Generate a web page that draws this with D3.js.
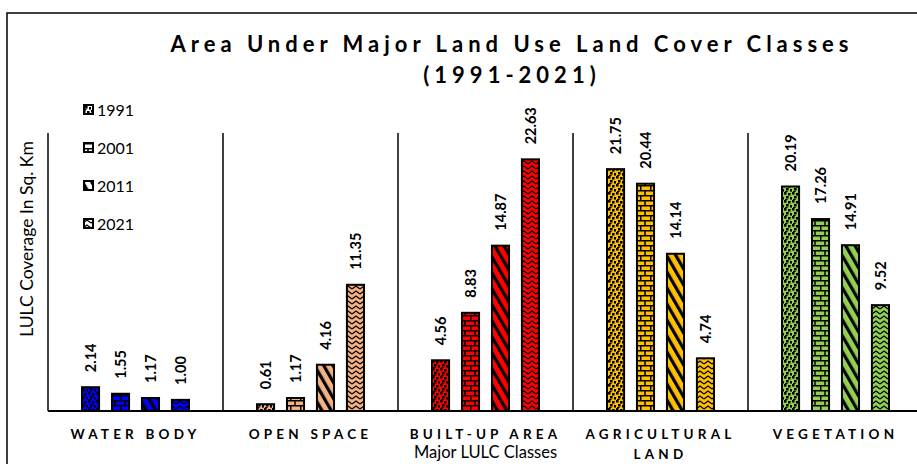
<!DOCTYPE html>
<html lang="en">
<head>
<meta charset="UTF-8">
<title>Area Under Major Land Use Land Cover Classes</title>
<script src="https://d3js.org/d3.v7.min.js"></script>
<style>
  body { margin:0; background:#fff; }
  svg { display:block; }
  text { font-family: Lato, "Open Sans", sans-serif; fill:#000; }
</style>
</head>
<body>
<svg id="chart" width="917" height="464"></svg>
<script>
// data
var categories = ["WATER BODY", "OPEN SPACE", "BUILT-UP AREA", "AGRICULTURAL LAND", "VEGETATION"];
var catColors = ["#0000ff", "#f4b183", "#ff0000", "#ffc000", "#92d050"];
var years = ["1991", "2001", "2011", "2021"];
var v1991 = [2.14, 0.61, 4.56, 21.75, 20.19];
var v2001 = [1.55, 1.17, 8.83, 20.44, 17.26];
var v2011 = [1.17, 4.16, 14.87, 14.14, 14.91];
var v2021 = [1.00, 11.35, 22.63, 4.74, 9.52];
var series = [v1991, v2001, v2011, v2021];

var svg = d3.select("#chart");
var defs = svg.append("defs");

var plotLeft = 48, plotRight = 923, plotTop = 133, plotBottom = 411;

var x = d3.scaleBand().domain(categories).range([plotLeft, plotRight]);
var xYear = d3.scaleBand().domain(years).range([34, 141]).paddingInner(0.43);
var y = d3.scaleLinear().domain([0, 25]).range([plotBottom, plotTop]);

// one pattern per colour and year
function makePattern(id, year, bg, fg) {
  var p;
  if (year === "1991") {
    p = defs.append("pattern").attr("id", id).attr("patternUnits", "userSpaceOnUse")
      .attr("width", 8).attr("height", 8);
    p.append("rect").attr("width", 8).attr("height", 8).attr("fill", bg);
    [[0,0],[4,1],[2,4],[6,5],[1,7]].forEach(function(d) {
      p.append("rect").attr("x", d[0]).attr("y", d[1]).attr("width", 2.6).attr("height", 2.6).attr("fill", fg);
    });
  } else if (year === "2001") {
    p = defs.append("pattern").attr("id", id).attr("patternUnits", "userSpaceOnUse")
      .attr("width", 10).attr("height", 10);
    p.append("rect").attr("width", 10).attr("height", 10).attr("fill", bg);
    p.append("path").attr("d", "M0,0.75H10M0,5.75H10M5,0V5.75M0.75,5.75V10")
      .attr("stroke", fg).attr("stroke-width", 1.5).attr("fill", "none");
  } else if (year === "2011") {
    p = defs.append("pattern").attr("id", id).attr("patternUnits", "userSpaceOnUse")
      .attr("width", 8).attr("height", 8).attr("patternTransform", "rotate(-30)");
    p.append("rect").attr("width", 8).attr("height", 8).attr("fill", bg);
    p.append("rect").attr("width", 3.2).attr("height", 8).attr("fill", fg);
  } else {
    p = defs.append("pattern").attr("id", id).attr("patternUnits", "userSpaceOnUse")
      .attr("width", 8).attr("height", 5);
    p.append("rect").attr("width", 8).attr("height", 5).attr("fill", bg);
    p.append("path").attr("d", "M0,4 L4,1 L8,4")
      .attr("stroke", fg).attr("stroke-width", 1.3).attr("fill", "none");
  }
}

categories.forEach(function(c, ci) {
  years.forEach(function(yr) { makePattern("p" + ci + "_" + yr, yr, catColors[ci], "#000"); });
});
years.forEach(function(yr) { makePattern("leg_" + yr, yr, "#fff", "#000"); });

// outer border
svg.append("rect").attr("x", 7).attr("y", 13).attr("width", 960).attr("height", 500)
  .attr("fill", "none").attr("stroke", "#000").attr("stroke-width", 1.5);

// title
svg.append("text").attr("x", 512).attr("y", 52).attr("text-anchor", "middle")
  .style("font-size", "22px").style("font-weight", "bold").style("letter-spacing", "5px")
  .text("Area Under Major Land Use Land Cover Classes");
svg.append("text").attr("x", 512).attr("y", 83).attr("text-anchor", "middle")
  .style("font-size", "22px").style("font-weight", "bold").style("letter-spacing", "5px")
  .text("(1991-2021)");

// separators
svg.append("g").selectAll("line").data(categories).join("line")
  .attr("x1", function(d) { return x(d) + x.bandwidth(); })
  .attr("x2", function(d) { return x(d) + x.bandwidth(); })
  .attr("y1", plotTop).attr("y2", plotBottom)
  .attr("stroke", "#000").attr("stroke-width", 1.5);

svg.append("line").attr("x1", plotLeft).attr("x2", plotLeft).attr("y1", plotTop).attr("y2", plotBottom)
  .attr("stroke", "#000").attr("stroke-width", 1.5);

// bars
var barData = [];
categories.forEach(function(c, ci) {
  years.forEach(function(yr, yi) {
    barData.push({ cat: c, ci: ci, year: yr, value: series[yi][ci] });
  });
});

var bars = svg.append("g");
bars.selectAll("rect").data(barData).join("rect")
  .attr("x", function(d) { return x(d.cat) + xYear(d.year); })
  .attr("y", function(d) { return y(d.value); })
  .attr("width", xYear.bandwidth())
  .attr("height", function(d) { return plotBottom - y(d.value); })
  .attr("fill", function(d) { return "url(#p" + d.ci + "_" + d.year + ")"; })
  .attr("stroke", "#000").attr("stroke-width", 2);

bars.selectAll("text").data(barData).join("text")
  .attr("transform", function(d) {
    var cx = x(d.cat) + xYear(d.year) + xYear.bandwidth() / 2;
    return "translate(" + cx + "," + (y(d.value) - 15) + ") rotate(-90)";
  })
  .attr("dy", "0.35em")
  .style("font-size", "14.5px").style("font-weight", "bold")
  .text(function(d) { return d.value.toFixed(2); });

// baseline
svg.append("line").attr("x1", plotLeft).attr("x2", 917).attr("y1", plotBottom).attr("y2", plotBottom)
  .attr("stroke", "#000").attr("stroke-width", 2);

// category labels
var catText = svg.append("g").selectAll("text").data(categories).join("text")
  .attr("x", function(d) { return x(d) + x.bandwidth() / 2; })
  .attr("y", 439)
  .attr("text-anchor", "middle")
  .style("font-size", "13.5px").style("font-weight", "bold").style("letter-spacing", "4.2px");
catText.each(function(d) {
  var t = d3.select(this);
  if (d === "AGRICULTURAL LAND") {
    t.append("tspan").attr("x", x(d) + x.bandwidth() / 2).text("AGRICULTURAL");
    t.append("tspan").attr("x", x(d) + x.bandwidth() / 2).attr("dy", 20).text("LAND");
  } else {
    t.text(d);
  }
});

// axis titles
svg.append("text").attr("x", (plotLeft + plotRight) / 2).attr("y", 458).attr("text-anchor", "middle")
  .style("font-size", "16.5px").text("Major LULC Classes");
svg.append("text").attr("transform", "translate(33,239) rotate(-90)").attr("text-anchor", "middle")
  .style("font-size", "17.5px").text("LULC Coverage In Sq. Km");

// legend
var leg = svg.append("g").selectAll("g").data(years).join("g")
  .attr("transform", function(d, i) { return "translate(83," + (110 + i * 38) + ")"; });
leg.append("rect").attr("x", 1).attr("y", -5).attr("width", 9).attr("height", 9)
  .attr("fill", function(d) { return "url(#leg_" + d + ")"; })
  .attr("stroke", "#000").attr("stroke-width", 2);
leg.append("text").attr("x", 14).attr("y", 0).attr("dy", "0.35em")
  .style("font-size", "16px").text(function(d) { return d; });
</script>
</body>
</html>
